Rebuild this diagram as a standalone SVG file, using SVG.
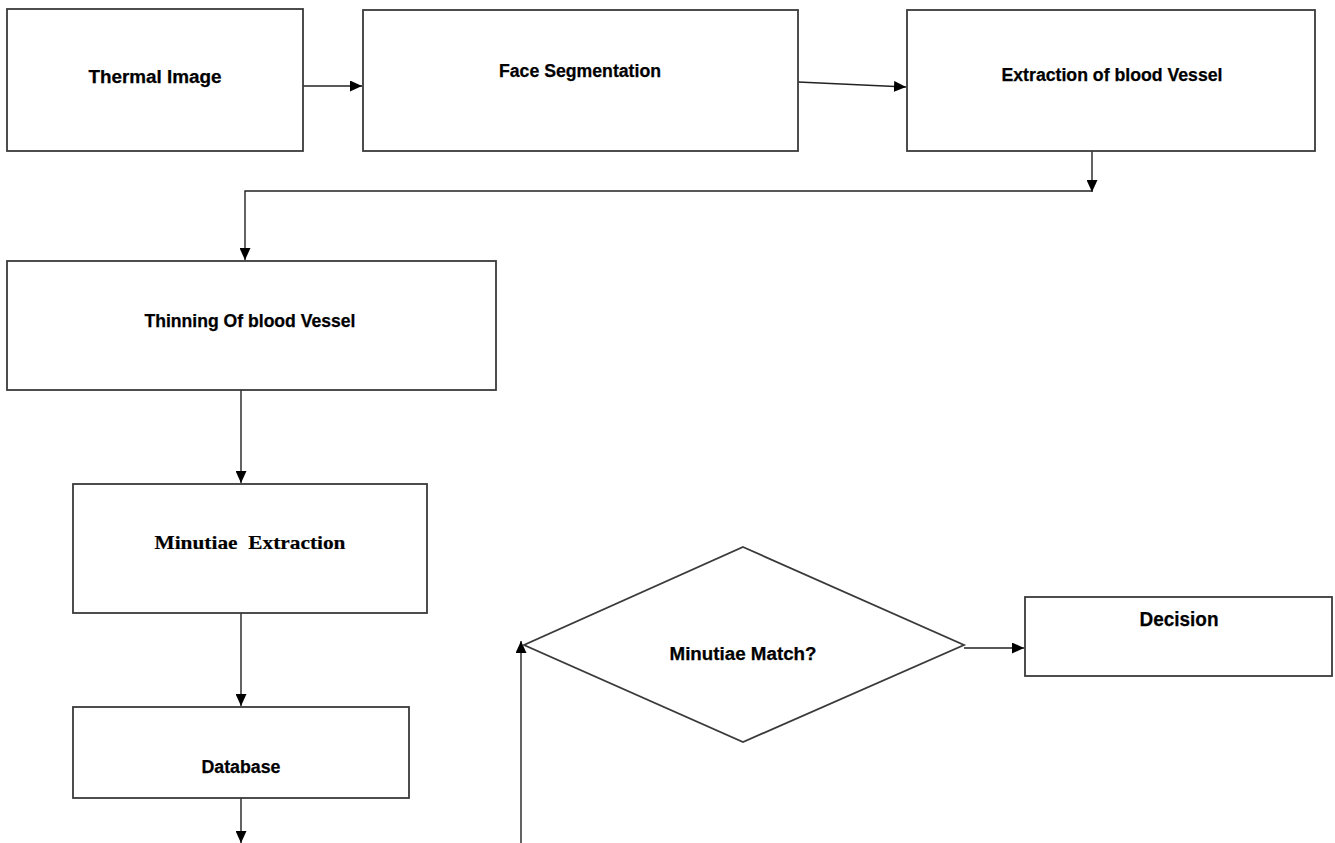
<svg xmlns="http://www.w3.org/2000/svg" width="1335" height="843" viewBox="0 0 1335 843">
<style>
.box{fill:#fff;stroke:#3a3a3a;stroke-width:1.8}
.lbl{font-family:"Liberation Sans",Arial,sans-serif;font-weight:bold;fill:#000;stroke:#000;stroke-width:0.25;text-anchor:middle}
.serif{font-family:"Liberation Serif","Times New Roman",serif;font-weight:bold;fill:#000;stroke:#000;stroke-width:0.2;text-anchor:middle}
.conn{fill:none;stroke:#222;stroke-width:1.4}
</style>
<defs>
<marker id="arr" markerUnits="userSpaceOnUse" markerWidth="13" markerHeight="11" refX="12" refY="5.5" orient="auto">
<path d="M0,0 L12,5.5 L0,11 Z" fill="#000"/>
</marker>
</defs>
<rect width="1335" height="843" fill="#fff"/>
<g id="connectors">
<line class="conn" x1="303" y1="86" x2="362" y2="86" marker-end="url(#arr)"/>
<line class="conn" x1="798" y1="82" x2="906" y2="87" marker-end="url(#arr)"/>
<line class="conn" x1="1092" y1="151" x2="1092" y2="192" marker-end="url(#arr)"/>
<polyline class="conn" points="1092,191 245,191 245,260" marker-end="url(#arr)"/>
<line class="conn" x1="241" y1="390" x2="241" y2="483" marker-end="url(#arr)"/>
<line class="conn" x1="241" y1="613" x2="241" y2="706" marker-end="url(#arr)"/>
<line class="conn" x1="241" y1="798" x2="241" y2="843" marker-end="url(#arr)"/>
<line class="conn" x1="521" y1="843" x2="521" y2="641" marker-end="url(#arr)"/>
<line class="conn" x1="964" y1="648" x2="1024" y2="648" marker-end="url(#arr)"/>
</g>
<g id="thermal-image">
<rect class="box" x="7" y="9" width="296" height="142"/>
<text class="lbl" x="155" y="83" font-size="18" textLength="133" lengthAdjust="spacingAndGlyphs">Thermal Image</text>
</g>
<g id="face-segmentation">
<rect class="box" x="363" y="10" width="435" height="141"/>
<text class="lbl" x="580" y="77" font-size="18" textLength="162" lengthAdjust="spacingAndGlyphs">Face Segmentation</text>
</g>
<g id="extraction">
<rect class="box" x="907" y="10" width="408" height="141"/>
<text class="lbl" x="1112" y="81" font-size="18" textLength="221" lengthAdjust="spacingAndGlyphs">Extraction of blood Vessel</text>
</g>
<g id="thinning">
<rect class="box" x="7" y="261" width="489" height="129"/>
<text class="lbl" x="250" y="327" font-size="17.5" textLength="211" lengthAdjust="spacingAndGlyphs">Thinning Of blood Vessel</text>
</g>
<g id="minutiae-extraction">
<rect class="box" x="73" y="484" width="354" height="129"/>
<text class="serif" x="250" y="549" font-size="19.5" textLength="191" lengthAdjust="spacingAndGlyphs" xml:space="preserve">Minutiae  Extraction</text>
</g>
<g id="database">
<rect class="box" x="73" y="707" width="336" height="91"/>
<text class="lbl" x="241" y="773" font-size="18" textLength="79" lengthAdjust="spacingAndGlyphs">Database</text>
</g>
<g id="minutiae-match">
<polygon class="box" points="743,547 964,645 743,742 524,645"/>
<text class="lbl" x="743" y="660" font-size="18" textLength="147" lengthAdjust="spacingAndGlyphs">Minutiae Match?</text>
</g>
<g id="decision">
<rect class="box" x="1025" y="597" width="307" height="79"/>
<text class="lbl" x="1179" y="626" font-size="20" textLength="79" lengthAdjust="spacingAndGlyphs">Decision</text>
</g>
</svg>
